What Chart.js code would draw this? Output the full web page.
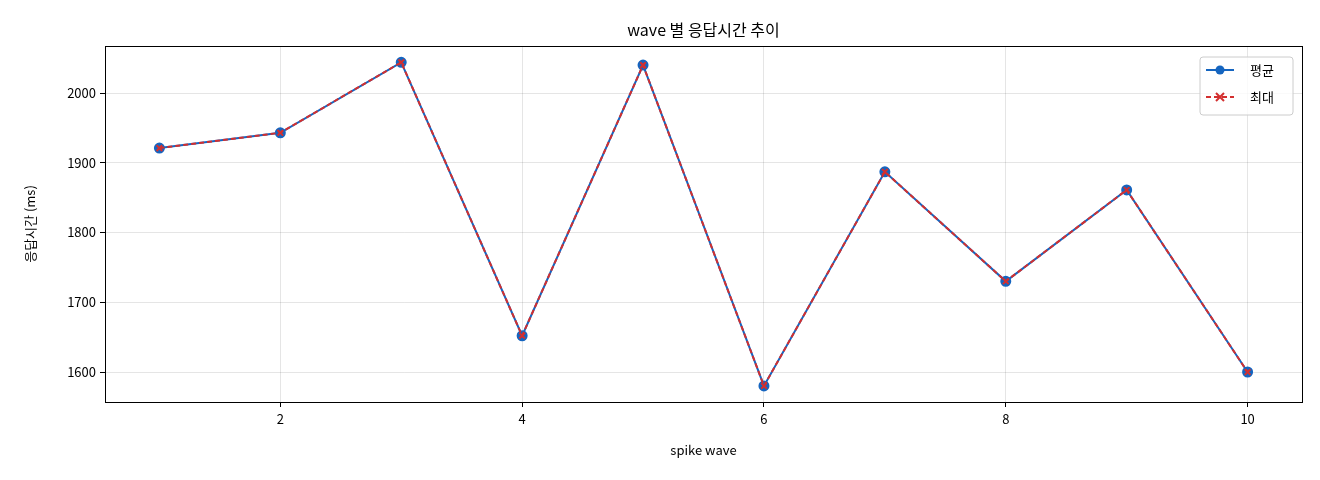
<!DOCTYPE html>
<html><head><meta charset="utf-8">
<script src="https://cdn.jsdelivr.net/npm/chart.js@4"></script>
<style>html,body{margin:0;padding:0;background:#fff}#w{width:1320px;height:480px}</style>
</head><body><div id="w"><canvas id="c"></canvas></div>
<script>
const waves=[1,2,3,4,5,6,7,8,9,10];
const avgVals=[1921,1943,2044,1652,2040,1580,1887,1730,1861,1600];
const maxVals=[1921,1943,2044,1652,2040,1580,1887,1730,1861,1600];
const xTicks=[2,4,6,8,10];
const yTicks=[1600,1700,1800,1900,2000];
const FONT='"Noto Sans CJK KR","Noto Sans",sans-serif';
const BLUE='#1565c0',RED='#d32f2f';
const deco={id:'deco',afterDraw(ch){
  const c=ch.ctx,a=ch.chartArea;c.save();
  c.strokeStyle='#000';c.lineWidth=1;c.strokeRect(a.left+0.5,a.top+0.5,a.right-a.left,a.bottom-a.top);
  c.fillStyle='#000';c.font='16px '+FONT;c.textAlign='center';c.textBaseline='middle';
  c.fillText('wave 별 응답시간 추이',(a.left+a.right)/2,30);
  const lx=a.right-102,ly=a.top+11,w=93,h=58;
  c.fillStyle='rgba(255,255,255,0.8)';c.strokeStyle='#ccc';
  c.beginPath();c.roundRect(lx,ly,w,h,3);c.fill();c.stroke();
  c.font='13px '+FONT;c.textAlign='left';c.fillStyle='#000';
  let y=ly+13;c.strokeStyle=BLUE;c.lineWidth=2;c.setLineDash([]);
  c.beginPath();c.moveTo(lx+6,y);c.lineTo(lx+34,y);c.stroke();
  c.fillStyle=BLUE;c.beginPath();c.arc(lx+20,y,4.5,0,7);c.fill();
  c.fillStyle='#000';c.fillText('평균',lx+50,y);
  y=ly+40;c.strokeStyle=RED;c.setLineDash([5,3]);
  c.beginPath();c.moveTo(lx+6,y);c.lineTo(lx+34,y);c.stroke();c.setLineDash([]);
  c.beginPath();c.moveTo(lx+16,y-4);c.lineTo(lx+24,y+4);c.moveTo(lx+24,y-4);c.lineTo(lx+16,y+4);c.stroke();
  c.fillStyle='#000';c.fillText('최대',lx+50,y);
  c.restore();}};
new Chart(document.getElementById('c'),{
 type:'line',
 data:{datasets:[
  {label:'평균',data:waves.map((x,i)=>({x,y:avgVals[i]})),borderColor:BLUE,backgroundColor:BLUE,borderWidth:2,pointRadius:4.5,pointStyle:'circle',order:2},
  {label:'최대',data:waves.map((x,i)=>({x,y:maxVals[i]})),borderColor:RED,backgroundColor:RED,borderWidth:2,borderDash:[5,3],pointRadius:4,pointStyle:'crossRot',pointBorderWidth:2,order:1}
 ]},
 options:{responsive:true,maintainAspectRatio:false,animation:false,
  layout:{padding:{top:46,right:18,left:18,bottom:18}},
  plugins:{legend:{display:false},title:{display:false},tooltip:{enabled:false}},
  scales:{
   x:{type:'linear',min:0.55,max:10.45,afterBuildTicks:s=>{s.ticks=xTicks.map(v=>({value:v}))},
      afterFit:s=>{s.height=60},border:{display:false},
      grid:{color:'rgba(0,0,0,0.1)',tickColor:'#000',tickLength:5},
      ticks:{color:'#000',font:{family:FONT,size:13},padding:4,callback:v=>String(v)},
      title:{display:true,text:'spike wave',color:'#000',font:{family:FONT,size:13},padding:{top:4}}},
   y:{min:1557,max:2067.4,afterBuildTicks:s=>{s.ticks=yTicks.map(v=>({value:v}))},
      afterFit:s=>{s.width=87},border:{display:false},
      grid:{color:'rgba(0,0,0,0.1)',tickColor:'#000',tickLength:5},
      ticks:{color:'#000',font:{family:FONT,size:13},padding:4,callback:v=>String(v)},
      title:{display:true,text:'응답시간 (ms)',color:'#000',font:{family:FONT,size:13},padding:{bottom:4}}}
  }},
 plugins:[deco]});
</script></body></html>
